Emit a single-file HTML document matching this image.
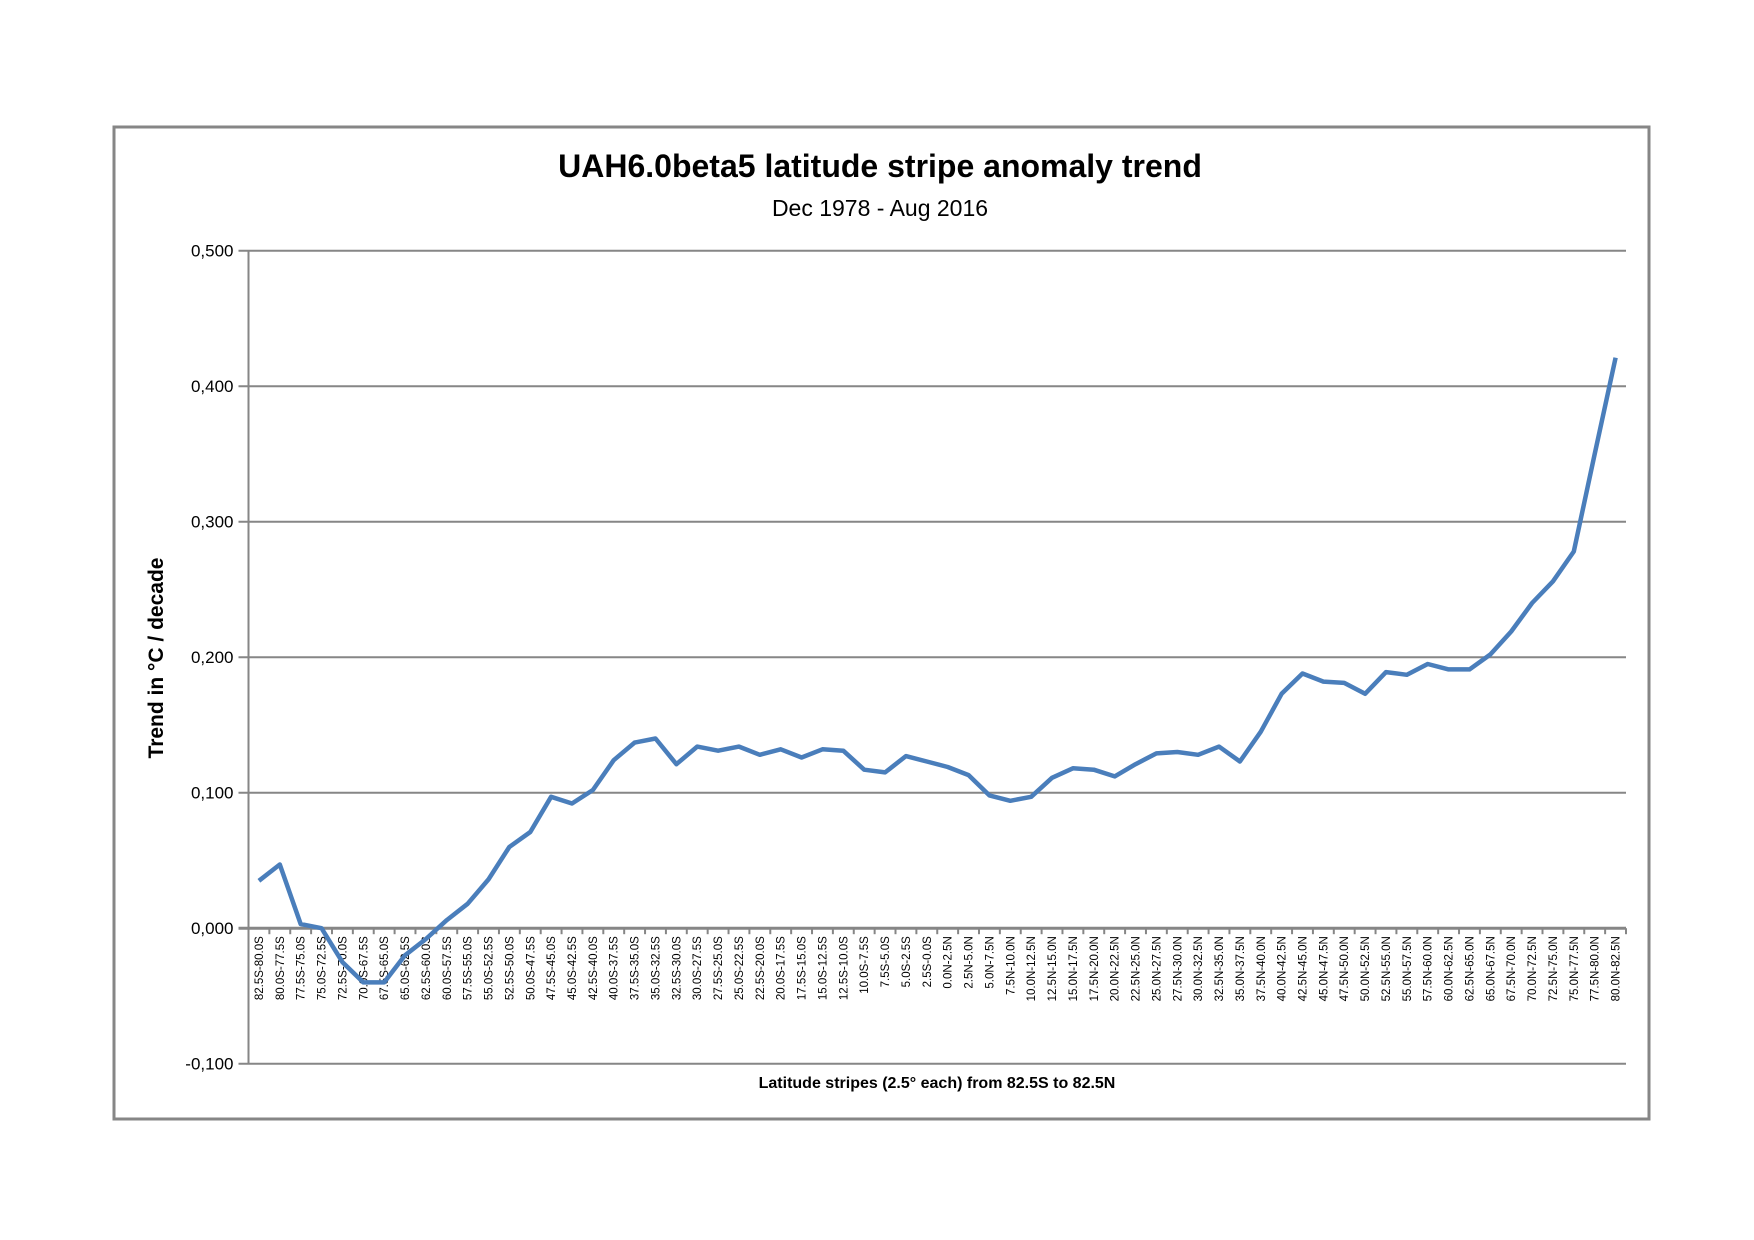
<!DOCTYPE html>
<html><head><meta charset="utf-8"><style>
html,body{margin:0;padding:0;background:#fff;}
svg{display:block;font-family:"Liberation Sans",sans-serif;}
</style></head><body>
<svg id="chart" width="1754" height="1240" viewBox="0 0 1754 1240">
<rect x="114" y="127" width="1535" height="992" fill="#fff" stroke="#868686" stroke-width="3"/>
<text x="880" y="177" text-anchor="middle" font-size="32" font-weight="bold">UAH6.0beta5  latitude stripe anomaly trend</text>
<text x="880" y="216" text-anchor="middle" font-size="23">Dec 1978 - Aug 2016</text>
<text transform="translate(163,658) rotate(-90)" text-anchor="middle" font-size="21" font-weight="bold">Trend in °C / decade</text>
<text x="937" y="1088" text-anchor="middle" font-size="16" font-weight="bold">Latitude stripes (2.5° each) from 82.5S to 82.5N</text>
<g id="grid"></g><g id="axes"></g><g id="series"></g>
</svg>
<script>
const categories=["82.5S-80.0S","80.0S-77.5S","77.5S-75.0S","75.0S-72.5S","72.5S-70.0S","70.0S-67.5S","67.5S-65.0S","65.0S-62.5S","62.5S-60.0S","60.0S-57.5S","57.5S-55.0S","55.0S-52.5S","52.5S-50.0S","50.0S-47.5S","47.5S-45.0S","45.0S-42.5S","42.5S-40.0S","40.0S-37.5S","37.5S-35.0S","35.0S-32.5S","32.5S-30.0S","30.0S-27.5S","27.5S-25.0S","25.0S-22.5S","22.5S-20.0S","20.0S-17.5S","17.5S-15.0S","15.0S-12.5S","12.5S-10.0S","10.0S-7.5S","7.5S-5.0S","5.0S-2.5S","2.5S-0.0S","0.0N-2.5N","2.5N-5.0N","5.0N-7.5N","7.5N-10.0N","10.0N-12.5N","12.5N-15.0N","15.0N-17.5N","17.5N-20.0N","20.0N-22.5N","22.5N-25.0N","25.0N-27.5N","27.5N-30.0N","30.0N-32.5N","32.5N-35.0N","35.0N-37.5N","37.5N-40.0N","40.0N-42.5N","42.5N-45.0N","45.0N-47.5N","47.5N-50.0N","50.0N-52.5N","52.5N-55.0N","55.0N-57.5N","57.5N-60.0N","60.0N-62.5N","62.5N-65.0N","65.0N-67.5N","67.5N-70.0N","70.0N-72.5N","72.5N-75.0N","75.0N-77.5N","77.5N-80.0N","80.0N-82.5N"];
const trendValues=[0.035,0.047,0.003,0.000,-0.025,-0.040,-0.040,-0.020,-0.008,0.006,0.018,0.036,0.060,0.071,0.097,0.092,0.102,0.124,0.137,0.140,0.121,0.134,0.131,0.134,0.128,0.132,0.126,0.132,0.131,0.117,0.115,0.127,0.123,0.119,0.113,0.098,0.094,0.097,0.111,0.118,0.117,0.112,0.121,0.129,0.130,0.128,0.134,0.123,0.145,0.173,0.188,0.182,0.181,0.173,0.189,0.187,0.195,0.191,0.191,0.202,0.219,0.240,0.256,0.278,0.350,0.421];
const yTicks=[-0.1,0,0.1,0.2,0.3,0.4,0.5];
const yTickLabels=["-0,100","0,000","0,100","0,200","0,300","0,400","0,500"];

const NS="http://www.w3.org/2000/svg";
const L=248.5,R=1626,yTop=250.7,yBot=1063.7,yMin=-0.1,yMax=0.5;
const n=categories.length,cw=(R-L)/n;
function xPos(i){return L+cw*(i+0.5);}
function yPos(v){return yBot-(v-yMin)/(yMax-yMin)*(yBot-yTop);}
function mk(tag,attrs,parent){const e=document.createElementNS(NS,tag);for(const k in attrs)e.setAttribute(k,attrs[k]);parent.appendChild(e);return e;}
const grid=document.getElementById('grid'),axes=document.getElementById('axes'),series=document.getElementById('series');
yTicks.forEach((t,i)=>{
  const y=yPos(t);
  const g=mk('line',{x1:L-10,x2:R,y1:y,y2:y,stroke:'#868686','stroke-width':t===0?3:2},grid);
  
  
  const tx=mk('text',{x:L-15,y:y+6,'text-anchor':'end','font-size':17},axes);
  tx.textContent=yTickLabels[i];
  
  
});
const ya=mk('line',{x1:L,x2:L,y1:yTop,y2:yBot,stroke:'#868686','stroke-width':2},axes);


const y0=yPos(0);
for(let i=0;i<=n;i++){
  const tk=mk('line',{x1:L+cw*i,x2:L+cw*i,y1:y0,y2:y0+6,stroke:'#868686','stroke-width':2},axes);
  
  
}
categories.forEach((c,i)=>{
  const x=xPos(i)+4;
  const tx=mk('text',{transform:`translate(${x},${y0+8}) rotate(-90)`,'text-anchor':'end','font-size':11.5},axes);
  tx.textContent=c;
  
  
});
const pts=trendValues.map((v,i)=>xPos(i).toFixed(1)+','+yPos(v).toFixed(1)).join(' ');
const pl=mk('polyline',{points:pts,fill:'none',stroke:'#4a7ebb','stroke-width':4.5,'stroke-linejoin':'round'},series);


</script>
</body></html>
